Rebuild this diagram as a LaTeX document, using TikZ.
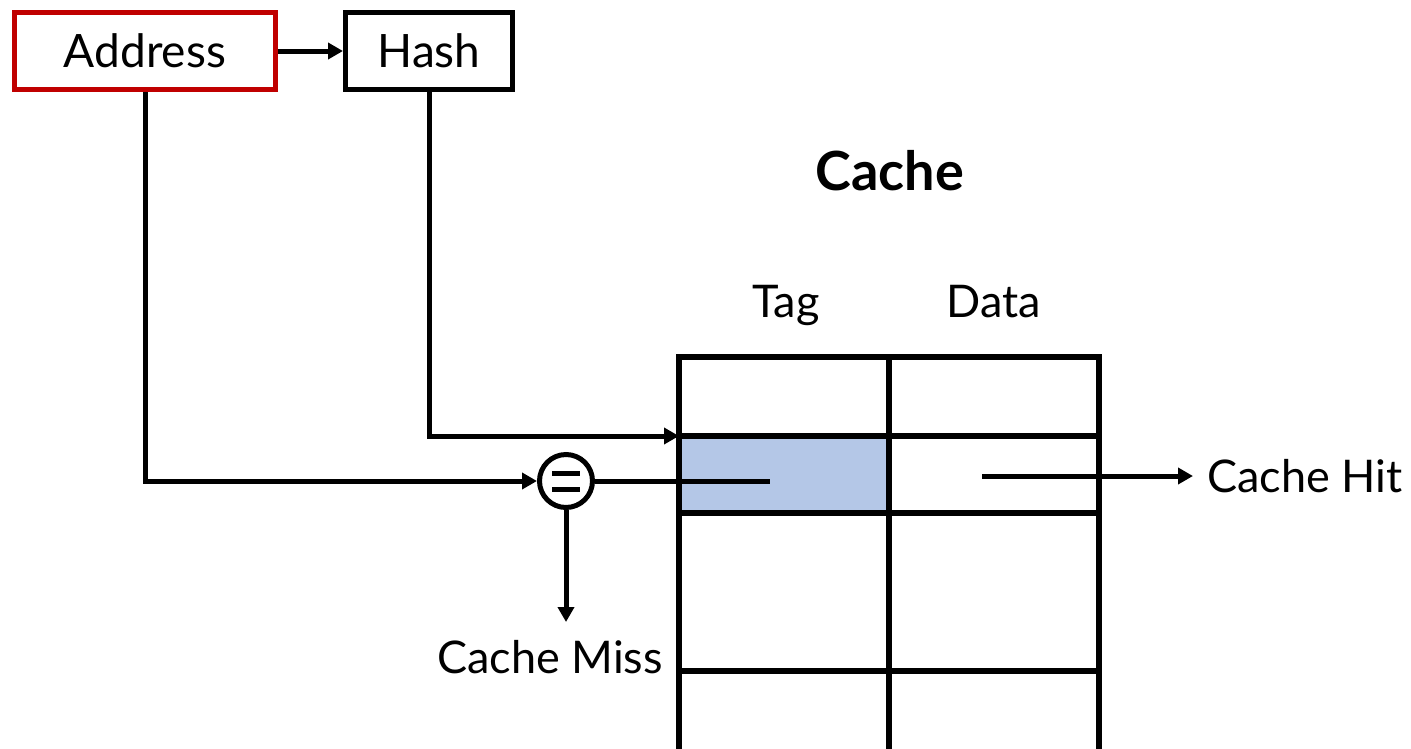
\documentclass[tikz,border=0pt]{standalone}
\usepackage{fontspec}
\setmainfont{Lato}
\usetikzlibrary{arrows.meta}
\definecolor{addrred}{HTML}{C00000}
\definecolor{hitblue}{HTML}{B4C7E7}
\begin{document}
\begin{tikzpicture}[x=1pt,y=-1pt,
  lbl/.style={font=\fontsize{45}{52}\selectfont, inner sep=0pt, anchor=base},
  boxed/.style={draw, line width=5pt, minimum height=77pt, inner sep=0pt, font=\fontsize{46}{52}\selectfont},
  conn/.style={line width=5pt},
  tip/.style={-{Triangle[length=15pt,width=16pt]}},
  grid/.style={line width=6pt}]
\useasboundingbox (0,0) rectangle (1411,748);
\clip (0,0) rectangle (1411,748);
% boxes
\node[boxed, draw=addrred, minimum width=261pt] (addr) at (145,51) {Address};
\node[boxed, minimum width=167pt] (hash) at (429,51) {Hash};
% table
\fill[hitblue] (679,436) rectangle (889,513);
\draw[grid] (679,760) -- (679,357) -- (1099,357) -- (1099,760);
\draw[grid] (889,357) -- (889,760);
\draw[grid] (679,436) -- (1099,436);
\draw[grid] (679,513) -- (1099,513);
\draw[grid] (679,671) -- (1099,671);
\coordinate (row) at (679,436);
% labels
\node[lbl, font=\fontsize{54}{60}\selectfont\bfseries] (cache) at (890,190) {Cache};
\node[lbl] (tag) at (786,317) {Tag};
\node[lbl] (data) at (994,317) {Data};
\node[lbl, anchor=base west] (hit) at (1207,492) {Cache Hit};
\node[lbl] (miss) at (550,673) {Cache Miss};
% comparator
\node[draw, circle, line width=5pt, minimum size=53pt, inner sep=0pt] (eq) at (566,481) {};
\draw[line width=5pt] (552,473) -- (580,473) (552,489) -- (580,489);
% connectors
\draw[conn, tip] (addr.east) -- (hash.west);
\draw[conn, tip] (hash.south) -- (hash.south |- row) -- (row);
\draw[conn, tip] (addr.south) -- (addr.south |- eq) -- (eq.west);
\coordinate (tagend) at (770,481);
\draw[conn] (eq.east) -- (tagend);
\coordinate (datastart) at (982,476);
\coordinate (hitend) at (1193,476);
\draw[conn, tip] (datastart) -- (hitend);
\coordinate (missend) at (566,622);
\draw[conn, tip] (eq.south) -- (missend);
\end{tikzpicture}
\end{document}
